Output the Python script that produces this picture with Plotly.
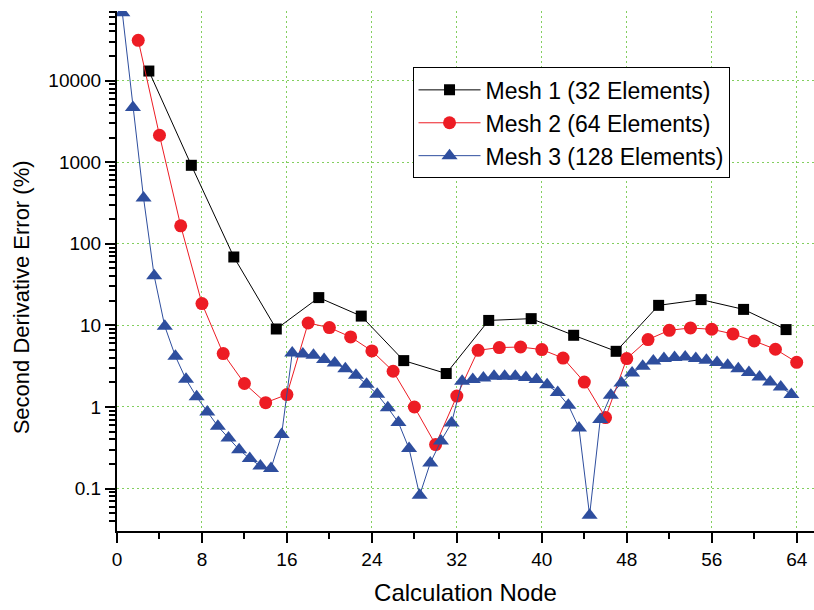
import plotly.graph_objects as go

# ---- data ----
mesh1_x = [3, 7, 11, 15, 19, 23, 27, 31, 35, 39, 43, 47, 51, 55, 59, 63]
mesh1_y = [13100, 916, 68.9, 9.03, 21.9, 13.0, 3.70, 2.57, 11.5, 12.1, 7.56, 4.81,
           17.6, 20.7, 15.7, 8.88]

mesh2_x = [2, 4, 6, 8, 10, 12, 14, 16, 18, 20, 22, 24, 26, 28, 30, 32,
           34, 36, 38, 40, 42, 44, 46, 48, 50, 52, 54, 56, 58, 60, 62, 64]
mesh2_y = [31200, 2140, 166, 18.5, 4.51, 1.94, 1.13, 1.42, 10.7, 9.40, 7.21, 4.86,
           2.74, 1.0, 0.346, 1.36, 4.95, 5.35, 5.43, 5.05, 3.98, 2.02, 0.741, 3.92,
           6.70, 8.71, 9.29, 8.96, 7.85, 6.44, 5.10, 3.53]

mesh3_x = [0.5, 1.5, 2.5, 3.5, 4.5, 5.5, 6.5, 7.5, 8.5, 9.5, 10.5, 11.5, 12.5, 13.5,
           14.5, 15.5, 16.5, 17.5, 18.5, 19.5, 20.5, 21.5, 22.5, 23.5, 24.5, 25.5,
           26.5, 27.5, 28.5, 29.5, 30.5, 31.5, 32.5, 33.5, 34.5, 35.5, 36.5, 37.5,
           38.5, 39.5, 40.5, 41.5, 42.5, 43.5, 44.5, 45.5, 46.5, 47.5, 48.5, 49.5,
           50.5, 51.5, 52.5, 53.5, 54.5, 55.5, 56.5, 57.5, 58.5, 59.5, 60.5, 61.5,
           62.5, 63.5]
mesh3_y = [68000, 4670, 364, 40.5, 9.75, 4.18, 2.18, 1.33, 0.869, 0.579, 0.417, 0.300,
           0.233, 0.189, 0.176, 0.459, 4.59, 4.45, 4.30, 3.81, 3.46, 2.95, 2.44, 1.90,
           1.43, 0.98, 0.644, 0.309, 0.0828, 0.206, 0.383, 0.637, 2.07, 2.17, 2.27,
           2.38, 2.38, 2.38, 2.29, 2.17, 1.87, 1.50, 1.05, 0.553, 0.0471, 0.700, 1.39,
           1.97, 2.61, 3.15, 3.66, 3.92, 4.03, 4.10, 3.92, 3.73, 3.50, 3.24, 2.95,
           2.64, 2.33, 2.02, 1.76, 1.42]

names = ["Mesh 1 (32 Elements)", "Mesh 2 (64 Elements)", "Mesh 3 (128 Elements)"]

y_tickvals = [0.1, 1, 10, 100, 1000, 10000]
y_ticktext = ["0.1", "1", "10", "100", "1000", "10000"]
x_tickvals = [0, 8, 16, 24, 32, 40, 48, 56, 64]
x_ticktext = ["0", "8", "16", "24", "32", "40", "48", "56", "64"]

FONT = "Liberation Sans, Arial, sans-serif"
GRID = "#82cf5e"

fig = go.Figure()
fig.add_trace(go.Scatter(
    x=mesh1_x, y=mesh1_y, name=names[0], mode="lines+markers",
    line=dict(color="black", width=1),
    marker=dict(symbol="square", size=11, color="black")))
fig.add_trace(go.Scatter(
    x=mesh2_x, y=mesh2_y, name=names[1], mode="lines+markers",
    line=dict(color="#ed1c24", width=1),
    marker=dict(symbol="circle", size=13, color="#ed1c24")))
fig.add_trace(go.Scatter(
    x=mesh3_x, y=mesh3_y, name=names[2], mode="lines+markers",
    line=dict(color="#2e4e9e", width=1),
    marker=dict(symbol="triangle-up", size=14, color="#2e4e9e")))

minor_y = [m * 10 ** k for k in range(-2, 5) for m in range(2, 10)]

fig.update_layout(
    width=814, height=610,
    margin=dict(l=117, r=0, t=11, b=79),
    paper_bgcolor="white", plot_bgcolor="white",
    font=dict(family=FONT, color="black"),
    showlegend=True,
    legend=dict(
        x=0.424, y=0.8915, xanchor="left", yanchor="top",
        bgcolor="white", bordercolor="black", borderwidth=1,
        font=dict(size=23, family=FONT, color="black"),
        tracegroupgap=0, itemwidth=62,
    ),
    xaxis=dict(
        range=[0, 65.63],
        tickvals=x_tickvals, ticktext=x_ticktext,
        tickfont=dict(size=19),
        ticks="outside", ticklen=10, tickwidth=2, tickcolor="black",
        minor=dict(dtick=4, tick0=0, ticks="outside", ticklen=6, tickwidth=2,
                   tickcolor="black", showgrid=False),
        showline=True, linecolor="black", linewidth=2,
        showgrid=True, gridcolor=GRID, griddash="2px,3px", gridwidth=1,
        zeroline=False,
        title=dict(text="Calculation Node", font=dict(size=24), standoff=15),
    ),
    yaxis=dict(
        type="log",
        range=[-1.52, 4.853],
        tickvals=y_tickvals, ticktext=y_ticktext,
        tickfont=dict(size=19),
        ticks="outside", ticklen=10, tickwidth=2, tickcolor="black",
        minor=dict(tickvals=minor_y, ticks="outside", ticklen=6, tickwidth=2,
                   tickcolor="black", showgrid=False),
        showline=True, linecolor="black", linewidth=2,
        showgrid=True, gridcolor=GRID, griddash="2px,3px", gridwidth=1,
        zeroline=False,
    ),
    annotations=[dict(
        text="Second Derivative Error (%)", textangle=-90,
        xref="paper", yref="paper", x=-0.1377, y=0.4494,
        xanchor="center", yanchor="middle", showarrow=False,
        font=dict(size=22, family=FONT, color="black"),
    )],
)

fig.write_html("out.html")
